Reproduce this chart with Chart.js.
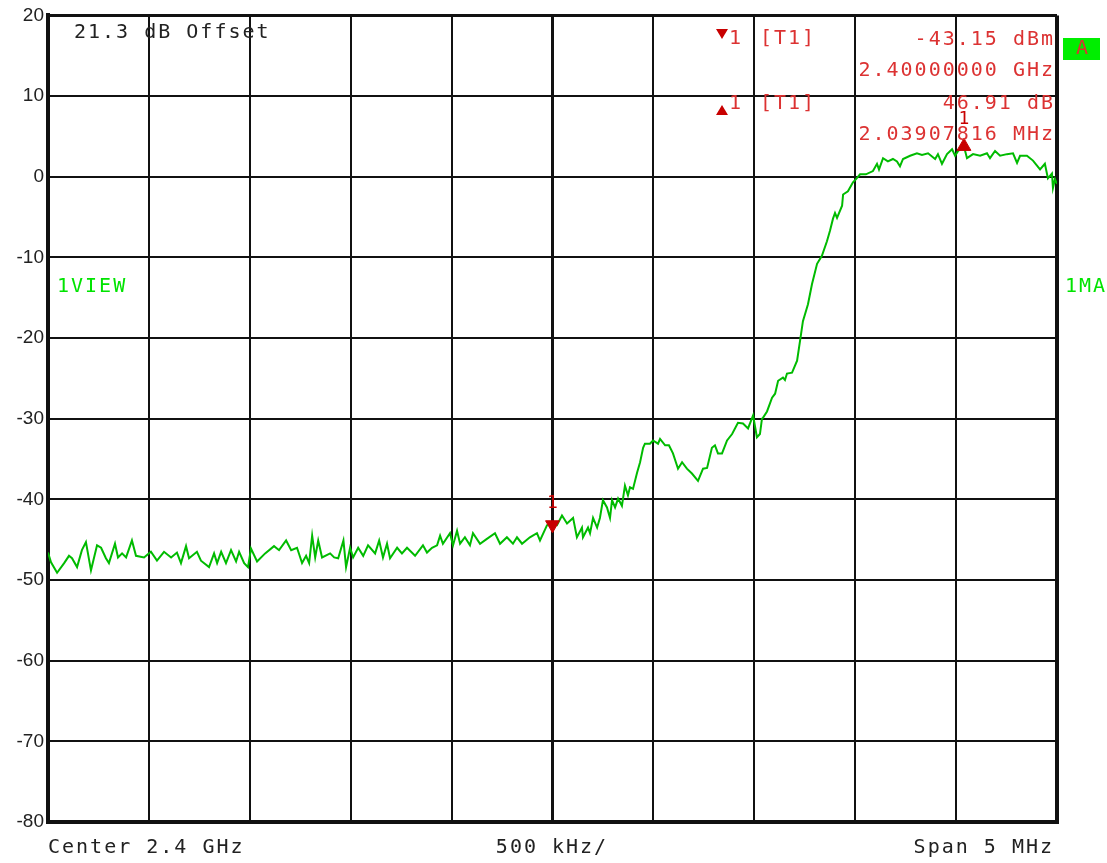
<!DOCTYPE html>
<html>
<head>
<meta charset="utf-8">
<script src="https://cdn.jsdelivr.net/npm/chart.js@4.4.1/dist/chart.umd.min.js"></script>
<style>
html, body { margin: 0; padding: 0; background: #fff; }
#wrap { width: 1107px; height: 863px; position: relative; }
</style>
</head>
<body>
<div id="wrap"><canvas id="spectrum"></canvas></div>
<script>
// frequency offset from 2.4 GHz centre, MHz
const freqMHz = [
    -2.5, -2.485, -2.455, -2.42, -2.396, -2.381, -2.356, -2.332, -2.312, -2.287,
    -2.257, -2.237, -2.213, -2.198, -2.168, -2.153, -2.133, -2.113, -2.084, -2.064,
    -2.024, -1.99, -1.96, -1.925, -1.89, -1.861, -1.841, -1.816, -1.801, -1.762,
    -1.742, -1.702, -1.677, -1.662, -1.642, -1.618, -1.593, -1.568, -1.553, -1.528,
    -1.509, -1.494, -1.464, -1.424, -1.38, -1.355, -1.32, -1.295, -1.266, -1.241,
    -1.221, -1.206, -1.191, -1.176, -1.161, -1.142, -1.102, -1.082, -1.062, -1.036,
    -1.023, -1.003, -0.988, -0.963, -0.938, -0.914, -0.879, -0.859, -0.84, -0.82,
    -0.805, -0.77, -0.746, -0.721, -0.681, -0.642, -0.622, -0.597, -0.572, -0.557,
    -0.543, -0.508, -0.493, -0.473, -0.458, -0.434, -0.409, -0.394, -0.359, -0.325,
    -0.285, -0.26, -0.226, -0.196, -0.176, -0.151, -0.112, -0.077, -0.062, -0.027,
    -0.012, 0, 0.022, 0.047, 0.072, 0.102, 0.121, 0.146, 0.151, 0.176,
    0.186, 0.201, 0.221, 0.235, 0.25, 0.27, 0.285, 0.295, 0.31, 0.325,
    0.344, 0.359, 0.374, 0.384, 0.399, 0.419, 0.434, 0.449, 0.458, 0.483,
    0.498, 0.523, 0.533, 0.558, 0.577, 0.597, 0.622, 0.642, 0.666, 0.691,
    0.721, 0.746, 0.766, 0.79, 0.805, 0.82, 0.84, 0.865, 0.89, 0.919,
    0.944, 0.969, 0.994, 1.013, 1.028, 1.038, 1.043, 1.063, 1.088, 1.103,
    1.118, 1.142, 1.152, 1.162, 1.187, 1.212, 1.227, 1.241, 1.266, 1.286,
    1.311, 1.335, 1.36, 1.375, 1.39, 1.4, 1.41, 1.435, 1.44, 1.464,
    1.489, 1.504, 1.524, 1.553, 1.588, 1.608, 1.618, 1.638, 1.662, 1.687,
    1.707, 1.722, 1.737, 1.772, 1.806, 1.831, 1.861, 1.896, 1.91, 1.93,
    1.955, 1.98, 1.995, 2.01, 2.039, 2.054, 2.084, 2.119, 2.153, 2.168,
    2.193, 2.218, 2.252, 2.282, 2.302, 2.317, 2.351, 2.381, 2.416, 2.44,
    2.455, 2.475, 2.48, 2.49, 2.5
]

// trace level, dBm
const levelDb = [
    -46.6, -47.8, -49.1, -47.9, -47.0, -47.3, -48.4, -46.3, -45.3, -48.8,
    -45.7, -46.0, -47.3, -47.9, -45.5, -47.2, -46.7, -47.2, -45.1, -47.0,
    -47.2, -46.5, -47.6, -46.5, -47.2, -46.6, -47.9, -45.8, -47.3, -46.5,
    -47.6, -48.4, -46.7, -47.9, -46.5, -47.9, -46.3, -47.7, -46.5, -47.9,
    -48.4, -46.1, -47.7, -46.7, -45.8, -46.3, -45.1, -46.3, -46.0, -47.9,
    -47.0, -47.9, -44.5, -47.2, -45.1, -47.2, -46.7, -47.2, -47.3, -45.1,
    -48.4, -46.0, -47.2, -46.0, -47.0, -45.7, -46.7, -45.1, -47.2, -45.5,
    -47.3, -46.0, -46.7, -46.0, -47.0, -45.7, -46.6, -46.0, -45.7, -44.5,
    -45.5, -44.2, -45.7, -43.9, -45.5, -44.7, -45.7, -44.2, -45.5, -44.9,
    -44.2, -45.5, -44.7, -45.5, -44.7, -45.5, -44.7, -44.2, -45.1, -43.2,
    -43.0, -43.15, -43.2, -42.0, -43.0, -42.3, -44.7, -43.5, -44.7, -43.5,
    -44.2, -42.3, -43.5, -42.3, -40.1, -41.0, -42.3, -40.1, -41.0, -39.9,
    -40.8, -38.3, -39.5, -38.5, -38.7, -36.7, -35.4, -33.6, -33.1, -33.1,
    -32.7, -33.1, -32.5, -33.3, -33.3, -34.3, -36.2, -35.4, -36.2, -36.8,
    -37.7, -36.2, -36.1, -33.6, -33.3, -34.3, -34.3, -32.7, -31.9, -30.5,
    -30.6, -31.2, -29.6, -32.3, -31.9, -30.0, -29.9, -29.1, -27.4, -26.9,
    -25.3, -24.9, -25.2, -24.4, -24.3, -22.8, -20.3, -17.9, -15.8, -13.3,
    -10.8, -9.8, -8.0, -6.7, -5.2, -4.5, -5.1, -3.6, -2.2, -1.8,
    -0.7, -0.3, 0.3, 0.3, 0.7, 1.6, 0.9, 2.3, 1.9, 2.2,
    1.9, 1.3, 2.2, 2.6, 2.9, 2.7, 2.9, 2.2, 2.8, 1.6,
    2.8, 3.4, 2.6, 3.2, 3.76, 2.3, 2.8, 2.6, 2.9, 2.3,
    3.2, 2.6, 2.8, 2.9, 1.7, 2.6, 2.6, 2.0, 0.9, 1.6,
    -0.2, 0.4, -1.4, -0.3, -0.9
]

// marker 1 (reference) and delta marker 1
const markerFreqs = [0, 2.039]
const markerLevels = [-43.15, 3.76]

const yTicks = [20, 10, 0, -10, -20, -30, -40, -50, -60, -70, -80]

const traceGreen = '#00bb00'
const markerRed = '#c80000'
const textRed = '#dc3232'
const screenGreen = '#00e400'

let tracePoints = freqMHz.map((f, i) => ({ x: f, y: levelDb[i] }))
let markerPoints = markerFreqs.map((f, i) => ({ x: f, y: markerLevels[i] }))

// all the instrument screen text around the diagram
const screenText = {
    id: 'screenText',
    afterDraw(chart) {
        let ctx = chart.ctx
        let xs = chart.scales.x
        let ys = chart.scales.y
        ctx.save()
        ctx.font = '20px "DejaVu Sans Mono"'
        ctx.letterSpacing = '2px'
        ctx.textBaseline = 'middle'

        ctx.fillStyle = '#222'
        ctx.textAlign = 'left'
        ctx.fillText('21.3 dB Offset', 74, 33)

        // marker readout
        ctx.fillStyle = markerRed
        ctx.beginPath()
        ctx.moveTo(716, 29); ctx.lineTo(728, 29); ctx.lineTo(722, 39); ctx.closePath()
        ctx.fill()
        ctx.beginPath()
        ctx.moveTo(716, 115); ctx.lineTo(728, 115); ctx.lineTo(722, 105); ctx.closePath()
        ctx.fill()

        ctx.fillStyle = textRed
        ctx.fillText('1', 729, 39)
        ctx.fillText('[T1]', 760, 39)
        ctx.fillText('1', 729, 104)
        ctx.fillText('[T1]', 760, 104)
        ctx.textAlign = 'right'
        ctx.fillText('-43.15 dBm', 1055, 40)
        ctx.fillText('2.40000000 GHz', 1055, 71)
        ctx.fillText('46.91 dB', 1055, 104)
        ctx.fillText('2.03907816 MHz', 1055, 135)

        // marker numbers above the trace markers
        ctx.textAlign = 'center'
        ctx.font = '18px "DejaVu Sans Mono"'
        ctx.letterSpacing = '0px'
        ctx.fillStyle = markerRed
        ctx.fillText('1', xs.getPixelForValue(markerFreqs[0]), ys.getPixelForValue(markerLevels[0]) - 21)
        ctx.fillText('1', xs.getPixelForValue(markerFreqs[1]), ys.getPixelForValue(markerLevels[1]) - 27)

        // "A" box
        ctx.font = '20px "DejaVu Sans Mono"'
        ctx.fillStyle = '#00ee00'
        ctx.fillRect(1063, 38, 37, 22)
        ctx.fillStyle = textRed
        ctx.fillText('A', 1082, 49)

        ctx.letterSpacing = '2px'
        ctx.textAlign = 'left'
        ctx.fillStyle = screenGreen
        ctx.fillText('1VIEW', 57, 287)
        ctx.fillText('1MA', 1065, 287)

        ctx.fillStyle = '#222'
        ctx.fillText('Center 2.4 GHz', 48, 848)
        ctx.textAlign = 'center'
        ctx.fillText('500 kHz/', 552, 848)
        ctx.textAlign = 'right'
        ctx.fillText('Span 5 MHz', 1054, 848)
        ctx.restore()
    }
}

const chart = new Chart(document.getElementById('spectrum'), {
    type: 'scatter',
    data: {
        datasets: [
            {
                data: tracePoints,
                order: 2,
                showLine: true,
                borderColor: traceGreen,
                borderWidth: 2,
                pointRadius: 0,
                tension: 0
            },
            {
                data: markerPoints,
                order: 1,
                showLine: false,
                pointStyle: 'triangle',
                pointRotation: [180, 0],
                pointRadius: 8,
                pointBackgroundColor: markerRed,
                pointBorderColor: markerRed,
                pointBorderWidth: 1
            }
        ]
    },
    options: {
        responsive: true,
        maintainAspectRatio: false,
        animation: false,
        layout: { padding: { left: 0, right: 50, top: 14, bottom: 41 } },
        plugins: {
            legend: { display: false },
            tooltip: { enabled: false }
        },
        scales: {
            x: {
                type: 'linear',
                min: -2.5,
                max: 2.5,
                afterBuildTicks: (scale) => {
                    let t = []
                    for (let i = 0; i <= 10; i++) t.push({ value: -2.5 + i * 0.5 })
                    scale.ticks = t
                },
                ticks: { display: false },
                afterFit: (scale) => { scale.height = 0 },
                grid: {
                    drawTicks: false,
                    color: '#111',
                    lineWidth: (c) => {
                        if (c.index === 0 || c.index === 10) return 4
                        if (c.index === 5) return 3
                        return 2
                    }
                },
                border: { display: true, color: '#111', width: 4 }
            },
            y: {
                min: -80,
                max: 20,
                afterBuildTicks: (scale) => {
                    scale.ticks = yTicks.map(v => ({ value: v }))
                },
                afterFit: (scale) => { scale.width = 48 },
                ticks: {
                    color: '#222',
                    padding: 4,
                    font: { family: '"Liberation Sans", sans-serif', size: 19 },
                    callback: (v) => String(v)
                },
                grid: {
                    drawTicks: false,
                    color: '#111',
                    lineWidth: (c) => (c.index === 0 || c.index === yTicks.length - 1 ? 3 : 2)
                },
                border: { display: true, color: '#111', width: 4 }
            }
        }
    },
    plugins: [screenText]
})
</script>
</body>
</html>
